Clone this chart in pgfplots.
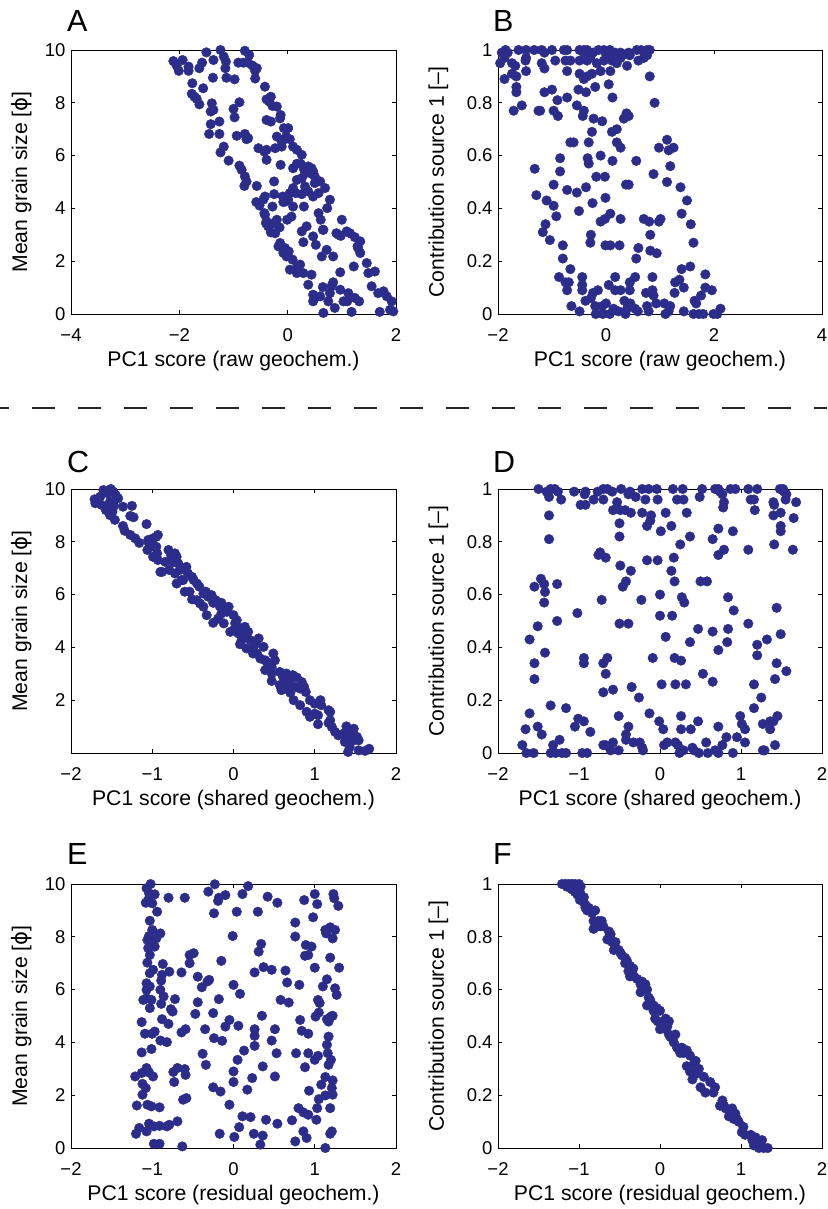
\documentclass[border=0pt]{standalone}
\usepackage{pgfplots}
\pgfplotsset{compat=1.18}
\usepackage{pgfplotstable}
\usepackage{fontspec}
\setmainfont{Liberation Sans}
\newfontfamily\dejavu{DejaVu Sans}
\definecolor{dotc}{RGB}{44,45,138}

\pgfplotstableread{
x y
-2.11 9.58
-1.94 9.62
-2.05 9.41
-2.01 9.21
-1.83 9.37
-1.83 9.21
-1.58 9.52
-1.63 9.31
-1.50 9.91
-1.24 10.00
-1.37 9.62
-1.18 9.75
-1.14 9.56
-1.15 9.31
-0.91 9.52
-0.79 9.97
-0.71 9.81
-0.82 9.52
-0.73 9.52
-0.65 9.41
-0.57 9.31
-0.60 9.21
-1.38 8.95
-1.13 8.95
-0.98 8.89
-0.60 8.92
-1.76 8.74
-1.56 8.55
-1.77 8.34
-1.72 8.23
-1.68 8.15
-1.63 7.94
-1.40 7.98
-1.37 7.73
-1.42 7.67
-1.00 7.77
-0.89 8.02
-0.98 7.45
-1.26 7.29
-1.42 7.19
-1.45 6.82
-1.26 6.82
-0.94 6.75
-0.79 6.82
-0.73 6.66
-0.42 8.61
-0.39 8.13
-0.31 8.23
-0.34 8.05
-0.28 7.88
-0.20 7.86
-0.13 7.54
-0.39 7.35
-0.31 7.29
-0.14 7.41
-0.07 7.04
0.01 7.04
-0.03 6.72
-0.08 6.60
-0.11 6.34
-0.23 6.28
-0.39 6.22
-0.20 6.72
-0.11 6.53
0.04 6.62
0.10 6.34
0.17 6.22
0.26 6.03
0.17 5.69
0.10 5.52
0.24 5.69
0.30 5.49
0.38 5.59
0.44 5.52
0.47 5.40
0.50 5.21
0.42 5.33
0.32 5.33
0.26 5.14
0.17 5.08
0.10 4.77
0.04 4.58
0.01 4.33
-0.04 4.26
-0.09 4.45
-0.25 5.02
-0.13 5.65
-0.39 5.84
-0.43 6.15
-0.54 6.28
-0.57 4.85
-0.76 6.62
-1.18 6.34
-1.24 6.12
-1.09 5.81
-0.89 5.62
-0.85 5.46
-0.79 5.21
-0.76 5.02
-0.80 4.85
-0.58 4.24
-0.52 4.11
-0.45 4.33
-0.42 4.45
-0.42 3.76
-0.39 3.51
-0.36 3.32
-0.28 3.42
-0.20 3.57
-0.15 3.28
-0.23 3.06
-0.25 4.54
-0.08 4.24
0.15 4.58
0.26 4.54
0.30 4.07
0.47 4.45
0.57 4.58
0.69 4.77
0.78 4.33
0.73 4.01
0.61 3.57
0.65 3.19
0.47 2.94
0.52 2.62
0.35 3.32
0.26 3.13
0.29 2.72
0.07 3.69
-0.01 3.57
-0.14 2.69
-0.05 2.50
-0.02 2.18
0.09 2.06
0.18 1.80
0.17 1.55
0.29 1.55
0.44 1.49
0.38 1.11
0.63 2.18
0.72 2.43
0.84 2.18
0.90 3.06
0.94 3.00
0.98 2.96
1.00 3.57
1.09 3.13
1.15 3.06
1.24 2.91
1.34 2.75
1.30 2.50
1.22 1.80
1.34 2.31
1.46 1.93
1.61 1.61
1.55 1.05
1.67 0.79
1.77 0.86
1.83 0.67
1.92 0.48
1.89 0.16
1.95 0.10
1.70 0.08
1.49 1.55
1.12 0.79
1.10 0.48
1.18 0.08
1.03 0.48
0.97 0.92
0.97 1.58
0.84 1.20
0.81 1.05
0.78 0.79
0.87 0.23
0.75 0.48
0.66 0.04
0.65 1.02
0.60 0.67
0.50 0.61
0.47 0.48
0.47 0.73
0.23 1.87
0.04 1.68
0.02 2.37
-0.08 2.31
-0.17 2.56
1.24 0.61
1.32 0.48
1.29 2.56
0.66 3.19
0.57 3.82
0.10 4.07
0.32 4.83
0.50 4.96
0.60 5.02
0.38 4.64
-0.40 3.44
-0.31 3.09
-0.28 4.07
-0.43 3.82
}\dataA

\pgfplotstableread{
x y
-1.93 0.99
-1.86 1.00
-1.82 0.99
-1.62 1.00
-1.48 1.00
-1.33 1.00
-1.19 1.00
-1.14 0.99
-1.00 1.00
-0.78 1.00
-0.72 1.00
-0.49 1.00
-0.41 1.00
-0.35 1.00
-0.24 0.99
-0.14 1.00
-0.04 1.00
0.07 1.00
0.17 0.99
0.27 0.99
0.42 0.99
0.57 1.00
0.65 1.00
0.76 1.00
0.81 1.00
0.30 0.98
-0.01 0.99
-0.41 0.99
-1.96 0.95
-1.88 0.97
-1.74 0.95
-1.68 0.94
-1.49 0.96
-1.48 0.97
-1.19 0.95
-1.14 0.93
-0.94 0.96
-0.75 0.96
-0.66 0.96
-0.49 0.96
-0.35 0.96
-0.29 0.97
-0.17 0.95
-0.04 0.96
0.02 0.98
0.11 0.96
0.20 0.95
0.27 0.97
0.39 0.94
0.44 0.98
0.60 0.96
0.70 0.97
0.76 0.98
-0.72 0.92
-0.49 0.91
-0.35 0.90
-0.41 0.89
-0.26 0.91
-0.10 0.92
0.08 0.92
-1.88 0.89
-1.74 0.91
-1.66 0.90
-1.48 0.92
0.81 0.90
-1.66 0.86
-1.66 0.84
-1.14 0.84
-1.00 0.85
-0.51 0.85
-0.37 0.84
-0.20 0.86
0.05 0.87
0.12 0.82
-1.71 0.77
-1.56 0.79
-1.25 0.77
-1.22 0.77
-0.97 0.77
-0.89 0.75
-0.90 0.81
-0.72 0.82
-0.54 0.79
-0.41 0.77
-0.43 0.75
-0.23 0.74
-0.07 0.73
0.33 0.74
0.38 0.76
0.42 0.75
0.90 0.80
-0.26 0.69
0.11 0.69
0.20 0.70
-0.66 0.65
-0.60 0.65
-0.32 0.65
0.20 0.65
0.27 0.63
0.98 0.63
1.13 0.66
1.16 0.62
1.25 0.63
1.19 0.56
0.56 0.58
0.12 0.58
-0.10 0.60
-0.34 0.59
-0.32 0.57
-0.85 0.59
-0.85 0.54
-1.32 0.55
0.88 0.53
-0.18 0.52
-0.02 0.52
0.37 0.49
0.42 0.49
1.13 0.50
1.38 0.48
1.50 0.43
-1.29 0.45
-0.72 0.47
-0.54 0.46
-0.37 0.48
-0.97 0.49
-1.10 0.43
-0.97 0.41
-0.50 0.39
-0.25 0.42
-0.01 0.44
0.08 0.38
-0.10 0.35
-0.02 0.36
0.27 0.36
0.70 0.36
0.80 0.35
0.98 0.35
1.01 0.36
1.40 0.38
1.57 0.34
-0.92 0.37
-1.12 0.34
-1.17 0.31
-1.04 0.28
-0.28 0.30
-0.29 0.27
-0.01 0.26
0.08 0.26
0.25 0.26
0.82 0.30
0.60 0.25
0.82 0.24
0.94 0.23
1.62 0.27
-0.80 0.26
-0.80 0.21
0.56 0.21
1.40 0.17
1.56 0.18
-0.87 0.14
-0.75 0.12
-0.66 0.17
-0.69 0.12
-0.72 0.09
-0.44 0.14
-0.44 0.11
-0.44 0.09
-0.15 0.09
0.05 0.11
0.17 0.14
0.27 0.09
0.17 0.09
0.44 0.12
0.54 0.14
0.44 0.09
0.86 0.14
0.74 0.08
0.86 0.09
0.88 0.07
1.28 0.12
1.36 0.13
1.44 0.10
1.27 0.08
1.84 0.15
1.84 0.10
1.76 0.07
1.96 0.09
-0.24 0.08
-0.28 0.06
-0.38 0.05
-0.64 0.03
-0.49 0.01
-0.19 0.00
-0.07 0.03
0.00 0.04
0.07 0.00
-0.06 0.00
0.14 0.02
0.23 0.01
0.34 0.05
0.39 0.02
0.36 0.00
0.45 0.04
0.54 0.02
0.59 0.01
0.76 0.03
0.79 0.01
0.93 0.04
1.08 0.04
1.10 0.00
1.16 0.01
1.19 0.03
1.44 0.01
1.62 0.00
1.64 0.05
1.72 0.00
1.80 0.00
1.99 0.00
2.06 0.00
2.12 0.02
1.67 0.04
-0.20 0.03
}\dataB

\pgfplotstableread{
x y
-1.71 9.61
-1.66 9.48
-1.64 9.71
-1.60 9.96
-1.55 9.84
-1.51 10.00
-1.48 9.90
-1.45 9.77
-1.42 9.65
-1.52 9.52
-1.57 9.20
-1.47 9.36
-1.49 9.14
-1.46 8.83
-1.36 9.33
-1.25 9.36
-1.27 8.98
-1.23 8.93
-1.36 8.60
-1.34 8.42
-1.27 8.26
-1.21 8.13
-1.16 7.96
-1.07 8.67
-1.06 7.69
-1.04 7.94
-0.99 8.13
-0.95 8.19
-0.93 8.26
-0.98 7.81
-0.94 7.56
-0.99 7.43
-0.93 7.31
-0.88 6.86
-0.90 6.86
-0.80 7.69
-0.77 7.50
-0.72 7.56
-0.70 7.43
-0.74 7.24
-0.68 7.18
-0.66 6.93
-0.72 6.80
-0.70 6.42
-0.62 6.55
-0.58 7.05
-0.56 6.80
-0.51 6.67
-0.49 6.55
-0.45 6.42
-0.42 6.30
-0.60 6.11
-0.51 5.82
-0.41 5.66
-0.37 6.04
-0.34 6.11
-0.31 5.92
-0.27 5.98
-0.33 5.22
-0.25 4.93
-0.25 5.69
-0.22 5.79
-0.17 5.56
-0.15 5.28
-0.15 5.69
-0.11 5.47
-0.08 5.35
-0.06 5.54
0.00 5.22
0.02 4.91
0.00 4.65
0.04 5.03
0.06 4.53
0.09 4.72
0.14 4.78
0.15 4.40
0.18 4.59
0.08 4.12
0.21 4.27
0.24 3.96
0.28 4.15
0.31 4.34
0.37 4.02
0.29 3.77
0.33 3.58
0.39 3.14
0.41 3.45
0.47 3.26
0.51 3.51
0.49 3.77
0.47 2.73
0.57 3.07
0.61 2.88
0.65 3.01
0.70 2.76
0.73 2.95
0.78 2.86
0.84 2.69
0.87 2.50
0.89 2.31
0.82 2.44
0.76 2.50
0.70 2.28
0.65 2.44
0.59 2.38
0.74 2.00
0.82 1.81
1.07 2.00
1.08 1.81
1.17 1.62
1.19 1.56
1.04 1.43
1.00 1.49
0.90 1.56
0.94 1.37
1.04 1.09
1.17 1.14
1.21 0.99
1.25 0.80
1.29 0.67
1.35 0.73
1.39 1.01
1.43 0.86
1.47 0.67
1.48 0.92
1.52 0.61
1.54 0.48
1.48 0.48
1.41 0.54
1.37 0.42
1.41 0.04
1.43 0.23
1.54 0.10
1.62 0.08
1.67 0.16
1.19 1.24
1.00 1.87
0.94 2.00
0.67 2.57
0.63 2.69
0.57 2.57
0.47 3.01
0.39 3.51
0.24 3.77
0.16 3.96
0.10 4.27
-0.04 4.59
-0.12 4.91
-0.19 5.09
-0.37 5.54
-0.45 5.79
-0.54 6.11
-0.64 6.55
-0.79 6.93
-0.84 7.24
-0.95 7.81
-1.05 8.07
-1.70 9.46
-1.62 9.39
-1.50 9.33
-1.52 9.01
}\dataC

\pgfplotstableread{
x y
-1.50 1.00
-1.40 0.99
-1.35 1.00
-1.30 1.00
-1.26 0.99
-1.06 0.99
-0.92 0.99
-0.77 0.99
-0.70 1.00
-0.59 0.99
-0.48 1.00
-0.37 0.99
-0.22 1.00
-0.14 1.00
-0.04 1.00
0.16 1.00
0.28 1.00
0.52 1.00
0.68 1.00
0.72 1.00
0.74 0.99
0.87 1.00
0.93 1.00
1.09 1.00
1.20 1.00
1.48 1.00
1.52 1.00
1.53 0.99
-1.37 0.97
-1.22 0.96
-0.93 0.98
-0.82 0.96
-0.70 0.96
-0.65 1.00
-0.53 0.95
-0.39 0.98
-0.30 0.97
-0.18 0.96
-0.03 0.96
0.21 0.96
0.29 0.96
0.49 0.97
0.77 0.98
0.79 0.95
1.12 0.96
1.16 0.96
1.40 0.95
1.41 0.94
1.56 0.98
1.55 0.96
1.68 0.95
-0.98 0.94
-0.92 0.94
-1.37 0.90
-0.58 0.92
-0.49 0.92
-0.43 0.92
-0.36 0.91
-0.50 0.87
-0.22 0.91
-0.11 0.90
-0.12 0.88
-0.16 0.86
0.07 0.91
0.33 0.91
0.78 0.93
1.17 0.92
1.40 0.90
1.49 0.91
1.65 0.89
1.49 0.86
1.49 0.84
-0.50 0.82
0.01 0.84
0.14 0.86
0.37 0.82
0.72 0.85
0.90 0.84
-1.37 0.81
0.25 0.79
0.65 0.81
0.79 0.77
1.09 0.77
1.41 0.79
1.64 0.77
-0.74 0.76
-0.76 0.75
-0.67 0.74
0.17 0.74
0.72 0.75
-0.49 0.71
-0.36 0.69
-0.16 0.73
-0.03 0.73
0.14 0.69
0.18 0.65
-1.47 0.66
-1.55 0.63
-1.43 0.64
-1.42 0.61
-1.43 0.57
-1.27 0.64
-0.46 0.63
-0.42 0.65
0.50 0.65
0.58 0.65
0.00 0.60
0.27 0.59
0.30 0.57
-0.23 0.58
-0.72 0.58
0.84 0.59
-1.02 0.53
0.00 0.52
0.15 0.52
0.91 0.54
1.44 0.55
-1.27 0.50
-1.51 0.48
-0.50 0.49
-0.39 0.49
0.47 0.47
0.84 0.47
1.09 0.49
-1.61 0.43
-1.42 0.38
0.07 0.44
0.37 0.42
0.65 0.46
0.83 0.42
0.72 0.39
1.20 0.41
1.32 0.43
1.49 0.45
1.20 0.37
-0.94 0.36
-0.94 0.34
-0.65 0.36
-0.70 0.34
-0.09 0.36
0.18 0.36
0.26 0.35
-1.55 0.34
1.44 0.34
1.56 0.31
-1.55 0.28
-0.67 0.30
0.53 0.30
0.65 0.27
1.42 0.28
0.02 0.26
0.19 0.26
0.32 0.26
1.16 0.26
-0.70 0.23
-0.58 0.24
-0.35 0.25
-0.26 0.21
1.25 0.21
-1.35 0.18
-1.16 0.17
1.16 0.17
-1.61 0.15
-1.66 0.09
-1.51 0.10
-1.46 0.07
-1.05 0.10
-1.01 0.13
-0.94 0.12
-0.86 0.08
-0.51 0.14
-0.39 0.10
-0.42 0.07
-0.13 0.15
-0.01 0.12
0.04 0.09
0.26 0.14
0.26 0.09
0.38 0.09
0.47 0.12
0.72 0.10
0.82 0.06
0.99 0.14
1.01 0.11
1.05 0.09
0.95 0.06
1.05 0.04
1.27 0.11
1.36 0.12
1.40 0.12
1.36 0.09
1.45 0.14
-1.70 0.03
-1.65 0.00
-1.56 0.00
-1.32 0.03
-1.35 0.00
-1.29 0.00
-1.24 0.05
-1.21 0.00
-1.16 0.00
-0.96 0.00
-0.90 0.00
-0.70 0.03
-0.67 0.03
-0.61 0.01
-0.58 0.04
-0.51 0.01
-0.42 0.05
-0.33 0.04
-0.25 0.04
-0.22 0.02
-0.21 0.01
0.05 0.03
0.09 0.04
0.19 0.04
0.22 0.03
0.24 0.00
0.29 0.01
0.40 0.02
0.42 0.01
0.48 0.00
0.57 0.04
0.59 0.00
0.68 0.01
0.72 0.00
0.77 0.03
0.90 0.00
1.27 0.01
1.29 0.01
1.42 0.03
}\dataD

\pgfplotstableread{
x y
-1.02 10.00
-1.07 9.84
-1.04 9.65
-0.97 9.61
-1.08 9.29
-1.05 9.39
-1.00 9.27
-0.94 8.95
-0.80 9.48
-1.03 8.61
-1.00 8.26
-1.04 8.03
-1.06 7.88
-1.01 7.82
-0.95 7.94
-0.90 8.13
-1.05 7.57
-0.97 7.63
-1.03 7.31
-1.06 7.02
-0.99 6.75
-1.03 6.62
-0.87 6.97
-0.88 6.56
-0.79 6.68
-1.07 6.24
-1.03 6.12
-0.89 6.34
-0.90 5.99
-1.07 5.99
-0.86 5.74
-1.11 5.61
-1.07 5.67
-1.01 5.61
-1.03 5.30
-0.89 5.46
-0.72 5.64
-0.77 5.26
-0.75 5.17
-1.13 4.77
-0.88 4.88
-0.80 4.70
-1.09 4.33
-1.00 4.33
-0.97 4.41
-0.90 4.07
-0.82 4.01
-1.13 3.62
-1.01 3.75
-1.21 2.71
-1.13 2.84
-1.07 3.03
-1.04 2.86
-0.99 2.71
-1.12 2.43
-1.08 2.27
-1.12 2.02
-1.19 1.61
-1.06 1.64
-1.01 1.58
-0.91 1.54
-1.16 0.76
-1.20 0.54
-1.07 0.63
-1.04 0.92
-0.98 0.82
-0.91 0.84
-0.82 0.82
-0.79 0.88
-0.69 1.01
-0.98 0.16
-0.91 0.16
-0.63 0.06
-0.74 2.88
-0.69 3.03
-0.73 2.50
-0.60 2.99
-0.59 2.77
-0.62 1.83
-0.58 1.89
-0.64 4.38
-0.59 4.50
-0.64 6.65
-0.54 7.00
-0.54 7.31
-0.49 7.38
-0.60 9.48
-0.47 5.08
-0.44 5.52
-0.44 6.49
-0.39 6.09
-0.32 6.31
-0.30 6.37
-0.38 3.57
-0.34 3.15
-0.35 4.50
-0.25 2.30
-0.31 9.71
-0.23 9.99
-0.19 9.36
-0.18 9.48
-0.24 8.89
-0.10 9.58
-0.15 7.09
-0.18 5.64
-0.25 5.11
-0.24 4.16
-0.14 4.06
-0.16 2.14
-0.10 4.60
-0.05 4.85
-0.17 0.54
-0.05 1.64
-0.01 8.03
0.00 6.18
0.00 2.50
0.00 2.90
0.01 0.42
0.04 8.95
0.05 3.34
0.06 4.63
0.07 0.79
0.08 5.84
0.11 9.62
0.11 1.20
0.13 3.69
0.17 2.21
0.18 9.92
0.21 1.17
0.23 2.65
0.25 0.54
0.26 3.87
0.26 4.50
0.26 4.25
0.26 6.65
0.30 8.95
0.31 7.44
0.34 7.73
0.33 0.13
0.36 0.47
0.36 3.09
0.35 5.01
0.37 6.85
0.40 1.07
0.42 9.52
0.47 6.75
0.47 4.07
0.51 4.50
0.51 2.71
0.53 3.59
0.54 9.29
0.54 0.92
0.58 5.61
0.64 6.72
0.66 6.27
0.68 5.51
0.72 1.05
0.76 8.54
0.76 8.01
0.77 3.59
0.76 0.25
0.81 6.18
0.82 4.85
0.84 4.44
0.80 1.51
0.86 0.63
0.88 7.28
0.88 3.06
0.87 9.39
0.86 1.35
0.90 0.38
0.89 7.69
0.92 7.31
0.92 4.33
0.92 1.26
0.92 3.59
0.93 2.17
0.96 7.63
0.98 8.74
1.00 9.62
1.00 6.83
1.00 3.34
1.02 1.07
1.03 1.51
1.03 9.24
1.04 5.61
1.01 4.98
1.04 3.49
1.05 1.85
1.05 5.13
1.06 5.49
1.08 2.40
1.10 6.12
1.13 1.99
1.13 2.69
1.13 0.00
1.15 4.88
1.15 6.39
1.13 8.26
1.14 8.13
1.15 3.91
1.16 3.59
1.17 4.22
1.17 4.79
1.17 3.15
1.19 8.36
1.19 7.21
1.19 1.51
1.19 0.54
1.20 4.98
1.20 3.34
1.21 2.27
1.21 0.63
1.22 2.56
1.22 2.02
1.22 7.94
1.22 5.01
1.23 9.62
1.24 9.46
1.25 8.26
1.25 6.05
1.27 5.80
1.29 9.17
1.30 6.83
}\dataE

\pgfplotstableread{
x y
-1.21 1.00
-1.17 1.00
-1.13 1.00
-1.09 1.00
-1.05 1.00
-1.00 1.00
-0.98 0.99
-1.15 0.99
-1.09 0.98
-1.05 0.97
-1.02 0.96
-0.99 0.97
-0.96 0.95
-0.99 0.94
-0.94 0.93
-0.92 0.92
-0.88 0.91
-0.90 0.90
-0.80 0.90
-0.82 0.86
-0.76 0.86
-0.72 0.86
-0.74 0.84
-0.82 0.83
-0.78 0.84
-0.63 0.82
-0.62 0.80
-0.65 0.79
-0.59 0.78
-0.57 0.75
-0.51 0.75
-0.47 0.73
-0.43 0.72
-0.43 0.70
-0.37 0.69
-0.33 0.68
-0.37 0.65
-0.32 0.65
-0.22 0.63
-0.24 0.62
-0.18 0.62
-0.24 0.59
-0.16 0.60
-0.14 0.57
-0.12 0.55
-0.16 0.54
-0.08 0.54
-0.04 0.53
0.00 0.52
0.07 0.49
-0.06 0.49
-0.03 0.48
0.02 0.47
0.11 0.48
0.00 0.45
0.07 0.45
0.11 0.43
0.19 0.43
0.17 0.40
0.24 0.37
0.27 0.38
0.29 0.36
0.33 0.37
0.37 0.35
0.44 0.33
0.33 0.31
0.37 0.29
0.48 0.30
0.44 0.28
0.40 0.26
0.54 0.27
0.56 0.21
0.68 0.23
0.66 0.21
0.77 0.18
0.74 0.16
0.81 0.15
0.89 0.15
0.85 0.12
0.93 0.13
0.91 0.11
0.97 0.10
1.03 0.08
1.01 0.06
1.05 0.05
1.12 0.05
1.14 0.03
1.18 0.04
1.20 0.02
1.24 0.01
1.28 0.00
1.33 0.00
1.22 0.00
1.16 0.01
1.26 0.03
0.95 0.11
0.87 0.13
0.79 0.16
0.62 0.25
0.50 0.23
0.42 0.32
0.25 0.36
0.21 0.38
0.13 0.42
0.09 0.46
0.05 0.48
-0.08 0.52
-0.12 0.56
-0.20 0.61
-0.28 0.64
-0.39 0.67
-0.41 0.71
-0.49 0.74
-0.55 0.78
-0.61 0.81
-0.70 0.84
-0.84 0.89
-0.92 0.91
-0.94 0.95
-1.07 0.99
-1.03 0.99
}\dataF

\pgfplotsset{
  panel/.style={
    scale only axis, width=325pt, height=264pt, anchor=north west,
    axis line style={black, line width=0.75pt},
    every tick/.style={black, line width=0.75pt},
    major tick length=4pt,
    tick align=inside,
    clip=false,
    tick label style={font=\fontsize{18.5}{21}\selectfont},
    xticklabel style={yshift=-11pt},
    yticklabel style={xshift=-2pt},
    every axis x label/.style={at={(axis description cs:0.5,0)}, anchor=base, yshift=-52pt, font=\fontsize{21.2}{25}\selectfont},
  },
  ylA/.style={every axis y label/.style={at={(axis description cs:-0.135,0.5)}, rotate=90, anchor=base, font=\fontsize{21.2}{25}\selectfont}},
  ylB/.style={every axis y label/.style={at={(axis description cs:-0.167,0.5)}, rotate=90, anchor=base, font=\fontsize{21.2}{25}\selectfont}},
  dots/.style={only marks, mark=*, mark size=4.8pt, mark options={draw=dotc, fill=dotc}},
}

\begin{document}
\begin{tikzpicture}
\useasboundingbox (0,0) rectangle (827pt,-1209pt);
\tikzset{letter/.style={anchor=base west, font=\fontsize{30.5}{34}\selectfont, inner sep=0pt}}

% Row 1
\begin{axis}[panel, ylA, at={(71pt,-50pt)},
  xmin=-4, xmax=2, ymin=0, ymax=10,
  xtick={-4,-2,0,2}, xticklabels={−4,−2,0,2},
  ytick={0,2,4,6,8,10}, yticklabels={0,2,4,6,8,10},
  xlabel={PC1 score (raw geochem.)}, ylabel={Mean grain size [{\dejavu ϕ}]}]
\addplot[dots] table {\dataA};
\end{axis}
\begin{axis}[panel, ylB, width=324pt, at={(498pt,-50pt)},
  xmin=-2, xmax=4, ymin=0, ymax=1,
  xtick={-2,0,2,4}, xticklabels={−2,0,2,4},
  ytick={0,0.2,0.4,0.6,0.8,1}, yticklabels={0,0.2,0.4,0.6,0.8,1},
  xlabel={PC1 score (raw geochem.)}, ylabel={Contribution source 1 [–]}]
\addplot[dots] table {\dataB};
\end{axis}

% Row 2
\begin{axis}[panel, ylA, at={(71pt,-489pt)},
  xmin=-2, xmax=2, ymin=0, ymax=10,
  xtick={-2,-1,0,1,2}, xticklabels={−2,−1,0,1,2},
  ytick={2,4,6,8,10}, yticklabels={2,4,6,8,10},
  xlabel={PC1 score (shared geochem.)}, ylabel={Mean grain size [{\dejavu ϕ}]}]
\addplot[dots] table {\dataC};
\end{axis}
\begin{axis}[panel, ylB, width=324pt, at={(498pt,-489pt)},
  xmin=-2, xmax=2, ymin=0, ymax=1,
  xtick={-2,-1,0,1,2}, xticklabels={−2,−1,0,1,2},
  ytick={0,0.2,0.4,0.6,0.8,1}, yticklabels={0,0.2,0.4,0.6,0.8,1},
  xlabel={PC1 score (shared geochem.)}, ylabel={Contribution source 1 [–]}]
\addplot[dots] table {\dataD};
\end{axis}

% Row 3
\begin{axis}[panel, ylA, at={(71pt,-884pt)},
  xmin=-2, xmax=2, ymin=0, ymax=10,
  xtick={-2,-1,0,1,2}, xticklabels={−2,−1,0,1,2},
  ytick={0,2,4,6,8,10}, yticklabels={0,2,4,6,8,10},
  xlabel={PC1 score (residual geochem.)}, ylabel={Mean grain size [{\dejavu ϕ}]}]
\addplot[dots] table {\dataE};
\end{axis}
\begin{axis}[panel, ylB, width=324pt, at={(498pt,-884pt)},
  xmin=-2, xmax=2, ymin=0, ymax=1,
  xtick={-2,-1,0,1,2}, xticklabels={−2,−1,0,1,2},
  ytick={0,0.2,0.4,0.6,0.8,1}, yticklabels={0,0.2,0.4,0.6,0.8,1},
  xlabel={PC1 score (residual geochem.)}, ylabel={Contribution source 1 [–]}]
\addplot[dots] table {\dataF};
\end{axis}

% panel letters
\node[letter] at (67pt,-32pt) {A};
\node[letter] at (493pt,-32pt) {B};
\node[letter] at (67pt,-472pt) {C};
\node[letter] at (493pt,-472pt) {D};
\node[letter] at (67pt,-864pt) {E};
\node[letter] at (493pt,-864pt) {F};

% separator
\draw[line width=1.6pt, color=black!85, dash pattern=on 23pt off 23pt, dash phase=14pt] (0pt,-408pt) -- (827pt,-408pt);
\end{tikzpicture}
\end{document}
